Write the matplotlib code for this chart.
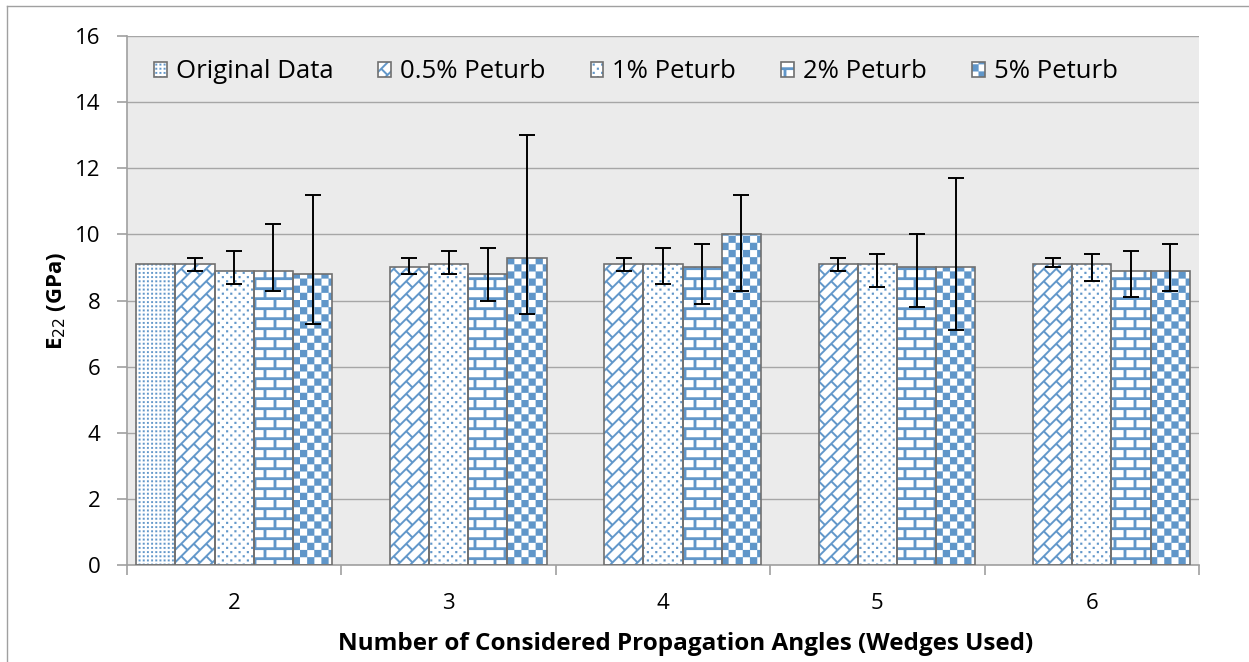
import warnings
import numpy as np
import matplotlib
matplotlib.use('Agg')
import matplotlib.pyplot as plt
from matplotlib import hatch as mhatch
from matplotlib.path import Path
from matplotlib.lines import Line2D

warnings.filterwarnings('ignore', message='hatch must consist')

groups = ['2', '3', '4', '5', '6']
series = ['Original Data', '0.5% Peturb', '1% Peturb', '2% Peturb', '5% Peturb']

# mean E22 (GPa) for each series, nan where the series was not run
original = [9.1, np.nan, np.nan, np.nan, np.nan]
pert_05 = [9.1, 9.0, 9.1, 9.1, 9.1]
pert_1 = [8.9, 9.1, 9.1, 9.1, 9.1]
pert_2 = [8.9, 8.8, 9.0, 9.0, 8.9]
pert_5 = [8.8, 9.3, 10.0, 9.0, 8.9]

# error bar limits
low_05 = [8.9, 8.8, 8.9, 8.9, 9.0]
high_05 = [9.3, 9.3, 9.3, 9.3, 9.3]
low_1 = [8.5, 8.8, 8.5, 8.4, 8.6]
high_1 = [9.5, 9.5, 9.6, 9.4, 9.4]
low_2 = [8.3, 8.0, 7.9, 7.8, 8.1]
high_2 = [10.3, 9.6, 9.7, 10.0, 9.5]
low_5 = [7.3, 7.6, 8.3, 7.1, 8.3]
high_5 = [11.2, 13.0, 11.2, 11.7, 9.7]

BLUE = '#6096C9'
EDGE = '#707070'
GRID = '#A6A6A6'

plt.rcParams['font.family'] = ['Open Sans', 'DejaVu Sans']
plt.rcParams['hatch.linewidth'] = 0.1


# ---- custom fill patterns (one hatch tile = 1 inch) ----
def box(cx, cy, w, h):
    return [(cx - w / 2, cy - h / 2), (cx + w / 2, cy - h / 2),
            (cx + w / 2, cy + h / 2), (cx - w / 2, cy + h / 2)]


def strip(p0, p1, t):
    (x0, y0), (x1, y1) = p0, p1
    d = np.hypot(x1 - x0, y1 - y0)
    nx, ny = -(y1 - y0) / d * t / 2, (x1 - x0) / d * t / 2
    return [(x0 + nx, y0 + ny), (x1 + nx, y1 + ny), (x1 - nx, y1 - ny), (x0 - nx, y0 - ny)]


def dot_grid(nx, ny, size, stagger=False):
    out = []
    for j in range(ny):
        for i in range(nx):
            off = (0.75 if j % 2 else 0.25) if stagger else 0.5
            out.append(box((i + off) / nx, (j + 0.5) / ny, size, size))
    return out


def checker(n=14):
    c = 1 / n
    return [box((i + .5) * c, (j + .5) * c, c, c)
            for i in range(n) for j in range(n) if (i + j) % 2 == 0]


def bricks(rows=10, cols=5, t=0.027):
    h, w = 1 / rows, 1 / cols
    out = []
    for k in range(rows):
        y0 = k * h
        out.append([(0, y0), (1, y0), (1, y0 + t), (0, y0 + t)])
        for j in range(cols):
            x = j * w + (0.75 * w if k % 2 else 0.25 * w)
            out.append([(x - t / 2, y0 + t), (x + t / 2, y0 + t),
                        (x + t / 2, y0 + h), (x - t / 2, y0 + h)])
    return out


def diagonal_bricks(a=1 / 8, b=1 / 4, t=0.018):
    out = []
    for k in range(-12, 13):
        out.append(strip((-0.5, -0.5 + k * a), (1.5, 1.5 + k * a), t))
    for k in range(-12, 12):
        for m in range(-12, 16):
            c = m * b + (b / 2 if k % 2 else 0)
            p0 = np.array([(c - k * a) / 2, (c + k * a) / 2])
            p1 = np.array([(c - (k + 1) * a) / 2, (c + (k + 1) * a) / 2])
            if not (-0.2 < p0[0] < 1.2 and -0.2 < p0[1] < 1.2):
                continue
            u = (p1 - p0) / np.hypot(*(p1 - p0))
            out.append(strip(p0 + u * t / 2, p1 - u * t / 2, t))
    return out


class PolygonHatch(mhatch.HatchPatternBase):
    shapes = {
        'g': dot_grid(24, 24, 0.018),
        'p': dot_grid(12, 24, 0.02, stagger=True),
        'd': diagonal_bricks(),
        'b': bricks(),
        'c': checker(),
    }

    def __init__(self, hatch, density):
        self.polys = [p for ch, ps in self.shapes.items() if ch in hatch for p in ps]
        self.num_vertices = 5 * len(self.polys)

    def set_vertices_and_codes(self, vertices, codes):
        for i, p in enumerate(self.polys):
            vertices[5 * i:5 * i + 4] = p
            vertices[5 * i + 4] = p[0]
        codes[:] = Path.LINETO
        codes[0::5] = Path.MOVETO
        codes[4::5] = Path.CLOSEPOLY


mhatch._hatch_types.append(PolygonHatch)

# ---- figure ----
fig = plt.figure(figsize=(12.49, 6.62), dpi=100)
W, H = 1249, 662
ax = fig.add_axes([127 / W, 1 - 565 / H, (1199 - 127) / W, (565 - 36) / H])

x = np.arange(len(groups))
width = 0.183
values = [original, pert_05, pert_1, pert_2, pert_5]
lows = [None, low_05, low_1, low_2, low_5]
highs = [None, high_05, high_1, high_2, high_5]
patterns = ['g', 'd', 'p', 'b', 'c']

handles = []
for i, (vals, lo, hi, pat) in enumerate(zip(values, lows, highs, patterns)):
    pos = x + (i - 2) * width
    vals = np.array(vals, dtype=float)
    filled = ax.bar(pos, vals, width, color='white', edgecolor=BLUE,
                    linewidth=0, hatch=pat, zorder=2)
    outline = ax.bar(pos, vals, width, fill=False, edgecolor=EDGE,
                     linewidth=1.2, zorder=3)
    handles.append((filled.patches[0], outline.patches[0]))
    if lo is not None:
        yerr = [vals - np.array(lo), np.array(hi) - vals]
        ax.errorbar(pos, vals, yerr=yerr, fmt='none', ecolor='black',
                    elinewidth=1.4, capsize=5.6, capthick=1.4, zorder=4)

ax.set_facecolor('#EBEBEB')
ax.set_ylim(0, 16)
ax.set_yticks(range(0, 17, 2))
ax.yaxis.grid(True, color=GRID, linewidth=1.0)
ax.set_axisbelow(True)

ax.set_xlim(-0.5, 4.5)
ax.set_xticks(np.arange(-0.5, 5, 1))
ax.set_xticklabels([])
ax.set_xticks(x, minor=True)
ax.set_xticklabels(groups, minor=True)

for side in ['top', 'right']:
    ax.spines[side].set_visible(False)
for side in ['left', 'bottom']:
    ax.spines[side].set_color('#A0A0A0')
    ax.spines[side].set_linewidth(1.2)

ax.tick_params(axis='x', which='major', length=7, width=1.2, color='#A0A0A0')
ax.tick_params(axis='x', which='minor', length=0, pad=20, labelsize=16)
ax.tick_params(axis='y', length=7, width=1.2, color='#A0A0A0', pad=12, labelsize=16)

ax.set_xlabel('Number of Considered Propagation Angles (Wedges Used)',
              fontsize=17.5, fontweight='bold')
ax.xaxis.set_label_coords(0.521, -0.127)
ax.set_ylabel('E$_{22}$ (GPa)', fontsize=16, fontweight='bold')
ax.yaxis.set_label_coords(-0.055, 0.5)

ax.legend(handles, series, loc='center left', ncol=5, frameon=False,
          bbox_to_anchor=(154 / W, 1 - 72 / H), bbox_transform=fig.transFigure,
          borderpad=0, borderaxespad=0, fontsize=18.5,
          handlelength=0.5, handleheight=0.5, handletextpad=0.35,
          columnspacing=1.75)

# chart border
fig.add_artist(Line2D([7 / W, 7 / W], [0, 1 - 6 / H], color='#A0A0A0', lw=1.0))
fig.add_artist(Line2D([7 / W, 1], [1 - 6 / H, 1 - 6 / H], color='#A0A0A0', lw=1.0))

fig.savefig('out.png', dpi=100)
